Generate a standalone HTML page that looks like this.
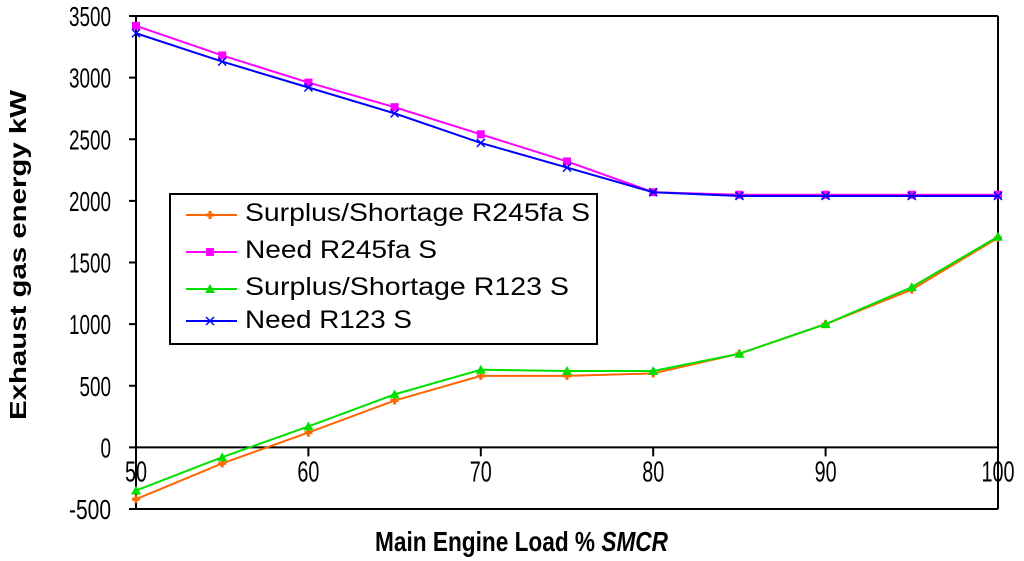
<!DOCTYPE html>
<html><head><meta charset="utf-8"><style>
body{margin:0;background:#fff;}
svg{display:block;font-family:"Liberation Sans",Arial,sans-serif;}
</style></head><body>
<svg id="chart" width="1024" height="561">
<g id="axes"></g><g id="series"></g><g id="legend"></g>
<text x="375" y="551" font-size="28" font-weight="bold" textLength="293" lengthAdjust="spacingAndGlyphs">Main Engine Load % <tspan font-style="italic">SMCR</tspan></text>
<text transform="translate(26,255) rotate(-90)" text-anchor="middle" font-size="23" font-weight="bold" textLength="330" lengthAdjust="spacingAndGlyphs">Exhaust gas energy kW</text>
</svg>
<script>
const loads=[50,55,60,65,70,75,80,85,90,95,100];
const surplusR245=[-420,-130,120,380,580,580,600,760,1000,1280,1700];
const needR245=[3420,3180,2960,2760,2540,2320,2070,2050,2050,2050,2050];
const surplusR123=[-350,-80,170,430,630,620,620,760,1000,1300,1710];
const needR123=[3360,3130,2920,2710,2470,2270,2070,2040,2040,2040,2040];
const yTicks=[-500,0,500,1000,1500,2000,2500,3000,3500];
const xTicks=[50,60,70,80,90,100];
const NS="http://www.w3.org/2000/svg";
const X0=136,X1=998,Y0=509,Y1=16;
const xs=v=>X0+(v-50)/50*(X1-X0);
const ys=v=>Y0-(v+500)/4000*(Y0-Y1);
function mk(t,a,p){const e=document.createElementNS(NS,t);for(const k in a)e.setAttribute(k,a[k]);p.appendChild(e);return e;}
const ax=document.getElementById('axes');
let e=mk('line',{x1:X0,y1:Y1,x2:X0,y2:Y0,stroke:'#000','stroke-width':2},ax);


e=mk('line',{x1:X1,y1:Y1,x2:X1,y2:Y0,stroke:'#000','stroke-width':2},ax);


e=mk('line',{x1:X0-7,y1:Y1,x2:X1,y2:Y1,stroke:'#000','stroke-width':2},ax);


e=mk('line',{x1:X0-7,y1:Y0,x2:X1,y2:Y0,stroke:'#000','stroke-width':2},ax);


e=mk('line',{x1:X0,y1:ys(0),x2:X1,y2:ys(0),stroke:'#000','stroke-width':2},ax);


yTicks.forEach(v=>{
 const y=ys(v);
 mk('line',{x1:X0-7,y1:y,x2:X0,y2:y,stroke:'#000','stroke-width':2},ax);
 const s=String(v);
 const t=mk('text',{x:111,y:y+10,'text-anchor':'end','font-size':28,textLength:s.length*10.5,lengthAdjust:'spacingAndGlyphs'},ax);
 t.textContent=s;
 
 
});
xTicks.forEach(v=>{
 const x=xs(v);
 mk('line',{x1:x,y1:ys(0),x2:x,y2:ys(0)+9,stroke:'#000','stroke-width':2},ax);
 const s=String(v);
 const t=mk('text',{x:x,y:ys(0)+34,'text-anchor':'middle','font-size':29,textLength:s.length*11,lengthAdjust:'spacingAndGlyphs'},ax);
 t.textContent=s;
 
 
});
function marker(g,kind,x,y,c){
 if(kind==='sq')mk('rect',{x:x-4,y:y-4,width:8,height:8,fill:c},g);
 else if(kind==='dot')mk('path',{d:`M${x-4} ${y}h8M${x} ${y-4}v8`,stroke:c,'stroke-width':3},g);
 else if(kind==='tri')mk('path',{d:`M${x} ${y-5}L${x+5} ${y+4}L${x-5} ${y+4}Z`,fill:c},g);
 else mk('path',{d:`M${x-4} ${y-4}L${x+4} ${y+4}M${x+4} ${y-4}L${x-4} ${y+4}`,stroke:c,'stroke-width':1.5},g);
}
const series=[
 {name:'Surplus/Shortage R245fa S',vals:surplusR245,c:'#ff6600',m:'dot',id:'surplus-r245fa',w:345,by:221,ly:215},
 {name:'Need R245fa S',vals:needR245,c:'#ff00ff',m:'sq',id:'need-r245fa',w:192,by:258,ly:252},
 {name:'Surplus/Shortage R123 S',vals:surplusR123,c:'#00e000',m:'tri',id:'surplus-r123',w:324,by:295,ly:289},
 {name:'Need R123 S',vals:needR123,c:'#0000ff',m:'x',id:'need-r123',w:167,by:328,ly:321}];
const sg=document.getElementById('series');
series.forEach(s=>{
 const g=mk('g',{},sg);
 
 
 mk('polyline',{points:loads.map((l,i)=>xs(l)+','+ys(s.vals[i])).join(' '),fill:'none',stroke:s.c,'stroke-width':2},g);
 loads.forEach((l,i)=>marker(g,s.m,xs(l),ys(s.vals[i]),s.c));
});
const lg=document.getElementById('legend');
const lb=mk('rect',{x:170,y:194,width:427,height:150,fill:'#fff',stroke:'#000','stroke-width':2},lg);


series.forEach((s,i)=>{
 const g=mk('g',{},lg);
 
 
 mk('line',{x1:186,y1:s.ly,x2:237,y2:s.ly,stroke:s.c,'stroke-width':2},g);
 marker(g,s.m,210,s.ly,s.c);
 const t=mk('text',{x:245,y:s.by,'font-size':25,textLength:s.w,lengthAdjust:'spacingAndGlyphs'},g);
 t.textContent=s.name;
});
</script>
</body></html>
